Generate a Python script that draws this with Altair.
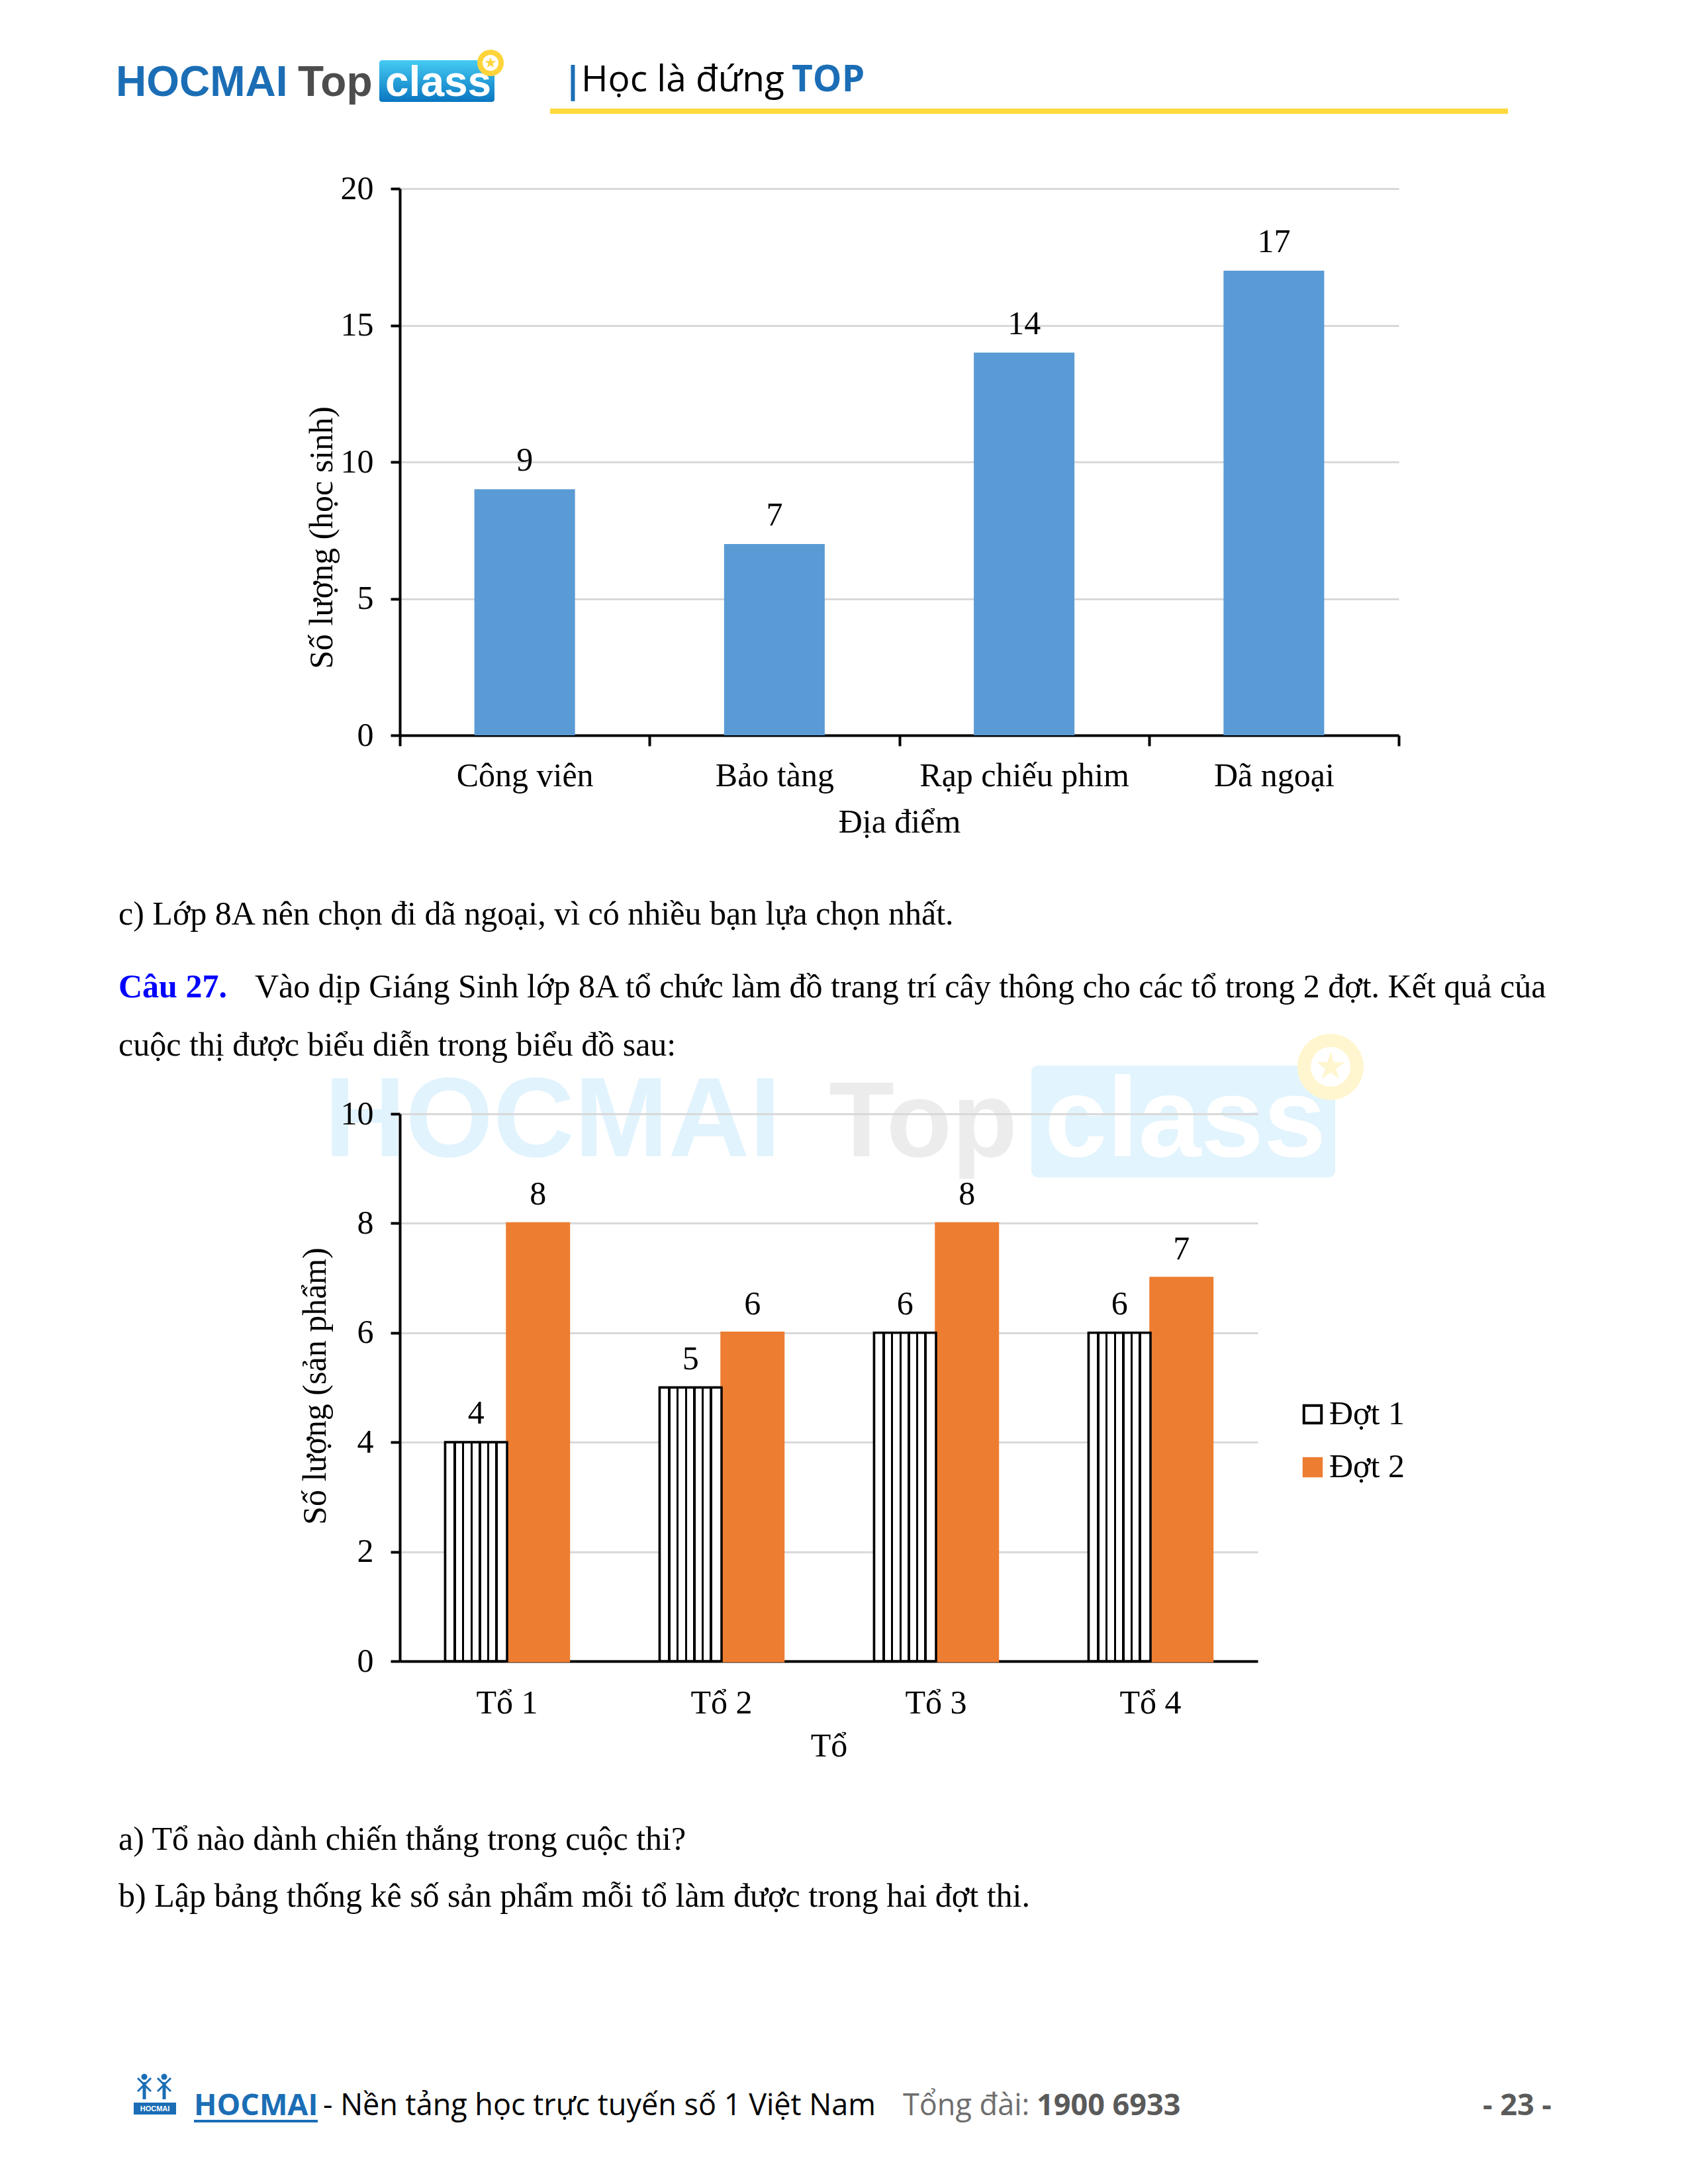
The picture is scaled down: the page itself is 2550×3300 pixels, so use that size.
import altair as alt
import pandas as pd

# ---------------- data ----------------
places = ["Công viên", "Bảo tàng", "Rạp chiếu phim", "Dã ngoại"]
students = [9, 7, 14, 17]

groups = ["Tổ 1", "Tổ 2", "Tổ 3", "Tổ 4"]
series = ["Đợt 1", "Đợt 2"]
dot1 = [4, 5, 6, 6]
dot2 = [8, 6, 8, 7]

brand = ["HOCMAI", "Top", "class"]
slogan = ["|", "Học là đứng", "TOP"]
text_c = "c) Lớp 8A nên chọn đi dã ngoại, vì có nhiều bạn lựa chọn nhất."
q_label = "Câu 27."
q_line1 = "Vào dịp Giáng Sinh lớp 8A tổ chức làm đồ trang trí cây thông cho các tổ trong 2 đợt. Kết quả của"
q_line2 = "cuộc thị được biểu diễn trong biểu đồ sau:"
text_a = "a) Tổ nào dành chiến thắng trong cuộc thi?"
text_b = "b) Lập bảng thống kê số sản phẩm mỗi tổ làm được trong hai đợt thi."
footer = ["HOCMAI", "- Nền tảng học trực tuyến số 1 Việt Nam", "Tổng đài:", "1900 6933", "- 23 -"]

df1 = pd.DataFrame({"place": places, "students": students})
df2 = pd.DataFrame({
    "group": groups * 2,
    "series": [series[0]] * len(groups) + [series[1]] * len(groups),
    "value": dot1 + dot2,
})

SERIF = "Liberation Serif"
SANS = "Liberation Sans"
LOGO_FONT = "Open Sans"
BLUE = "#1B6EB5"
one = pd.DataFrame({"k": [0]})


def txt(s, x, y, size=50, font=SERIF, color="black", weight="normal", align="left", **kw):
    return alt.Chart(pd.DataFrame({"t": [s]})).mark_text(
        align=align, baseline="alphabetic", font=font, fontSize=size,
        fontWeight=weight, color=color, **kw
    ).encode(text="t:N", x=alt.value(x), y=alt.value(y))


def box(x, x2, y, y2, fill, **kw):
    return alt.Chart(one).mark_rect(fill=fill, **kw).encode(
        x=alt.value(x), x2=alt.value(x2), y=alt.value(y), y2=alt.value(y2))


def rule(x, x2, y, y2, color, w):
    return alt.Chart(one).mark_rule(color=color, strokeWidth=w).encode(
        x=alt.value(x), x2=alt.value(x2), y=alt.value(y), y2=alt.value(y2))


def dot(x, y, d, color, shape="circle"):
    return alt.Chart(one).mark_point(shape=shape, filled=True, size=d * d, color=color, opacity=1).encode(
        x=alt.value(x), y=alt.value(y))


STAR = "M0,-1L0.22,-0.31L0.95,-0.31L0.36,0.12L0.59,0.81L0,0.38L-0.59,0.81L-0.36,0.12L-0.95,-0.31L-0.22,-0.31Z"


def gear(x, y, d, color):
    return [dot(x, y, d, color), dot(x, y, d * 0.6, "white"), dot(x, y, d * 0.45, color, STAR)]


def logo_grad(top, bottom):
    return alt.LinearGradient(gradient="linear", x1=0, x2=0, y1=0, y2=1, stops=[
        alt.GradientStop(color=top, offset=0), alt.GradientStop(color=bottom, offset=1)])


# ---------------- chart 1 ----------------
ox1, oy1 = 604, 285  # plot origin on the page


def p1(x, y):
    return x - ox1, y - oy1


x1 = alt.X("place:N", sort=places, title="Địa điểm",
           scale=alt.Scale(paddingInner=0, paddingOuter=0),
           axis=alt.Axis(labelAngle=0, tickBand="extent", tickSize=16, labelPadding=20,
                         labelLimit=1000, titlePadding=20, grid=False))
y1 = alt.Y("students:Q", title="Số lượng (học sinh)",
           scale=alt.Scale(domain=[0, 20], nice=False),
           axis=alt.Axis(values=[0, 5, 10, 15, 20], tickSize=14, labelPadding=26,
                         titleX=-118, titleY=527, titleBaseline="middle"))
base1 = alt.Chart(df1).encode(x=x1, y=y1)
bars1 = base1.mark_bar(color="#5B9BD5", width={"band": 0.403})
labels1 = base1.mark_text(dy=-28, baseline="alphabetic", font=SERIF, fontSize=50, color="black").encode(
    text="students:Q")

under1 = []
# invisible anchors at the page's corners (page x, y = 8, 8 and 2540, 3290) fix the origin and size
ax0, ay0 = p1(8, 8)
under1.append(box(ax0, ax0 + 4, ay0, ay0 + 4, "white", opacity=0))
ax9, ay9 = p1(2536, 3286)
under1.append(box(ax9, ax9 + 4, ay9, ay9 + 4, "white", opacity=0))
# watermark (page coords converted to chart-1 coords, drawn beneath chart 2)
wx, wy = p1(490, 1747)
under1.append(txt(brand[0], wx, wy, size=170, font=SANS, weight="bold", color="#E1F3FD"))
wx, wy = p1(1252, 1747)
under1.append(txt(brand[1], wx, wy, size=162, font=SANS, weight="bold", color="#ECECEC"))
bx, by = p1(1558, 1610)
bx2, by2 = p1(2017, 1779)
under1.append(box(bx, bx2, by, by2, "#E2F4FD", cornerRadius=10))
wx, wy = p1(1578, 1747)
under1.append(txt(brand[2], wx, wy, size=170, font=SANS, weight="bold", color="white"))
gx, gy = p1(2010, 1612)
under1 += gear(gx, gy, 100, "#FFF6CF")

over1 = []
# header
hx, hy = p1(175, 145)
over1.append(txt(brand[0], hx, hy, size=64, font=SANS, weight="bold", color=BLUE))
hx, _ = p1(450, 145)
over1.append(txt(brand[1], hx, hy, size=64, font=SANS, weight="bold", color="#4D4D4D"))
bx, by = p1(573, 91)
bx2, by2 = p1(747, 154)
over1.append(box(bx, bx2, by, by2, logo_grad("#45CBF2", "#0A76C1"), cornerRadius=4))
hx, _ = p1(582, 145)
over1.append(txt(brand[2], hx, hy, size=64, font=SANS, weight="bold", color="white"))
gx, gy = p1(741, 95)
over1 += gear(gx, gy, 40, "#FFD43B")
sx, sy = p1(850, 140)
over1.append(txt(slogan[0], sx, sy, size=56, font=LOGO_FONT, color=BLUE, weight="bold"))
sx, sy = p1(878, 138)
over1.append(txt(slogan[1], sx, sy, size=55, font=LOGO_FONT, color="black"))
sx, _ = p1(1196, 138)
over1.append(txt(slogan[2], sx, sy, size=55, font=LOGO_FONT, color=BLUE, weight="bold"))
lx, ly = p1(831, 168)
lx2, _ = p1(2278, 168)
over1.append(rule(lx, lx2, ly, ly, "#FFD93D", 8))

# text between the charts
tx, ty = p1(179, 1397)
over1.append(txt(text_c, tx, ty))
tx, ty = p1(179, 1507)
over1.append(txt(q_label, tx, ty, weight="bold", color="#0000FF"))
tx, _ = p1(385, 1507)
over1.append(txt(q_line1, tx, ty))
tx, ty = p1(179, 1595)
over1.append(txt(q_line2, tx, ty))

chart1 = alt.layer(*under1, bars1, labels1, *over1).properties(width=1509, height=826)

# ---------------- chart 2 ----------------
ox2, oy2 = 604, 1683


def p2(x, y):
    return x - ox2, y - oy2


stops = [alt.GradientStop(color="white", offset=0)]
for p in [0.156, 0.29, 0.425, 0.56, 0.694, 0.828]:
    stops += [alt.GradientStop(color="white", offset=p - 0.018),
              alt.GradientStop(color="black", offset=p - 0.018),
              alt.GradientStop(color="black", offset=p + 0.018),
              alt.GradientStop(color="white", offset=p + 0.018)]
stops.append(alt.GradientStop(color="white", offset=1))
stripes = alt.LinearGradient(gradient="linear", x1=0, x2=1, y1=0, y2=0, stops=stops)

x2 = alt.X("group:N", sort=groups, title="Tổ",
           scale=alt.Scale(paddingInner=0.423, paddingOuter=0.2115),
           axis=alt.Axis(labelAngle=0, tickSize=0, labelPadding=38, titlePadding=15, grid=False))
y2 = alt.Y("value:Q", title="Số lượng (sản phẩm)",
           scale=alt.Scale(domain=[0, 10], nice=False),
           axis=alt.Axis(values=[0, 2, 4, 6, 8, 10], tickSize=14, labelPadding=26,
                         titleX=-128, titleY=411, titleBaseline="middle"))
xo = alt.XOffset("series:N", sort=series)
# legend placed (relative to the page-level origin, i.e. chart 1's plot corner)
lgx, lgy = p1(1958, 2112)
legend = alt.Legend(title=None, orient="none", legendX=lgx, legendY=lgy, padding=0,
                    symbolType="square", symbolSize=700, symbolStrokeWidth=4,
                    labelFont=SERIF, labelFontSize=50, labelColor="black", labelOffset=0,
                    rowPadding=30)
base2 = alt.Chart(df2).encode(x=x2, y=y2, xOffset=xo)
barsA = base2.mark_bar(strokeWidth=3.5).encode(
    fill=alt.Fill("series:N", scale=alt.Scale(domain=series, range=["white", "#ED7D31"]), legend=legend),
    stroke=alt.Stroke("series:N", scale=alt.Scale(domain=series, range=["black", "#ED7D31"]), legend=legend),
)
barsB = base2.transform_filter(alt.datum.series == series[0]).mark_bar(
    fill=stripes, stroke="black", strokeWidth=3.5)
labels2 = base2.mark_text(dy=-28, baseline="alphabetic", font=SERIF, fontSize=50, color="black").encode(
    text="value:Q")

layers2 = []
tx, ty = p2(179, 2795)
layers2.append(txt(text_a, tx, ty))
tx, ty = p2(179, 2881)
layers2.append(txt(text_b, tx, ty))

FS = 45
fy = p2(0, 3196)[1]
fx, _ = p2(293, 0)
layers2.append(txt(footer[0], fx, fy, size=FS, font=LOGO_FONT, weight="bold", color=BLUE))
ux, uy = p2(293, 3205)
ux2, _ = p2(480, 0)
layers2.append(rule(ux, ux2, uy, uy, BLUE, 4))
fx, _ = p2(488, 0)
layers2.append(txt(footer[1], fx, fy, size=FS, font=LOGO_FONT, color="black"))
fx, _ = p2(1364, 0)
layers2.append(txt(footer[2], fx, fy, size=FS, font=LOGO_FONT, color="#6E6E6E"))
fx, _ = p2(1566, 0)
layers2.append(txt(footer[3], fx, fy, size=FS, font=LOGO_FONT, weight="bold", color="#5A5A5A"))
fx, _ = p2(2240, 0)
layers2.append(txt(footer[4], fx, fy, size=FS, font=LOGO_FONT, weight="bold", color="#5A5A5A"))
# footer icon
ix, iy = p2(202, 3177)
ix2, iy2 = p2(266, 3195)
layers2.append(box(ix, ix2, iy, iy2, BLUE))
cx, cy = p2(234, 3190)
layers2.append(txt("HOCMAI", cx, cy, size=11, font=SANS, weight="bold", color="white", align="center"))
for fxp in (218, 248):
    hx, hy = p2(fxp, 3138)
    layers2.append(dot(hx, hy, 9, BLUE))
    bx1, by1 = p2(fxp, 3146)
    bx2_, by2_ = p2(fxp, 3172)
    layers2.append(rule(bx1, bx2_, by1, by2_, BLUE, 5))
    ax1, ay1 = p2(fxp - 10, 3140)
    ax2, ay2 = p2(fxp + 10, 3160)
    layers2.append(rule(ax1, ax2, ay1, ay2, BLUE, 3))
    ax1, ay1 = p2(fxp + 10, 3140)
    ax2, ay2 = p2(fxp - 10, 3160)
    layers2.append(rule(ax1, ax2, ay1, ay2, BLUE, 3))

chart2 = alt.layer(barsA, barsB, labels2, *layers2).properties(width=1296, height=827)

chart = alt.vconcat(chart1, chart2, spacing=572, bounds="flush").properties(
    autosize=alt.AutoSizeParams(type="pad"),
    padding=0,
).configure(font=SERIF).configure_view(stroke=None).configure_axis(
    labelFont=SERIF, labelFontSize=50, labelColor="black",
    titleFont=SERIF, titleFontSize=50, titleFontWeight="normal", titleColor="black",
    domainColor="black", domainWidth=4, tickColor="black", tickWidth=4,
    gridColor="#D9D9D9", gridWidth=3,
)

chart.save("out.html", embed_options={"renderer": "svg", "actions": False})
